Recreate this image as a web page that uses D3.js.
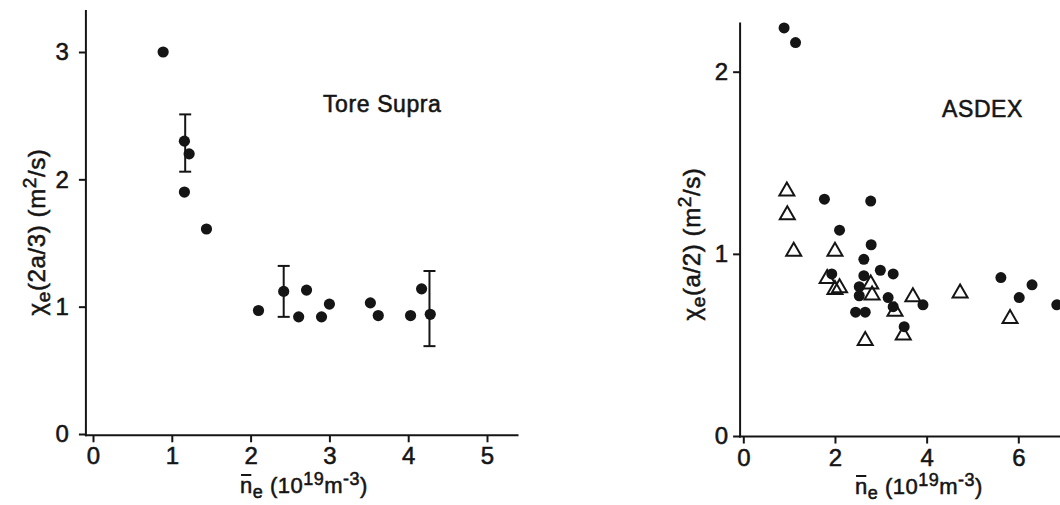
<!DOCTYPE html>
<html>
<head>
<meta charset="utf-8">
<script src="https://cdn.jsdelivr.net/npm/d3@7/dist/d3.min.js"></script>
<style>
  html, body { margin: 0; padding: 0; background: #ffffff; }
  svg { display: block; }
  text { font-family: 'Liberation Sans', Arial, Helvetica, sans-serif; fill: #151515;
         stroke: #151515; stroke-width: 0.55px; paint-order: stroke; }
</style>
</head>
<body>
<svg id="chart" width="1060" height="505"></svg>
<script>
// ---- Tore Supra: chi_e at r = 2a/3 versus line-averaged density ----
const tsDensity = [0.89, 1.16, 1.22, 1.16, 1.44, 2.10, 2.42, 2.61, 2.71, 2.90, 3.00, 3.52, 3.62, 4.03, 4.17, 4.28];
const tsChi     = [3.00, 2.30, 2.20, 1.90, 1.61, 0.97, 1.12, 0.92, 1.13, 0.92, 1.02, 1.03, 0.93, 0.93, 1.14, 0.94];
// error bars
const tsErrDensity = [1.17, 2.42, 4.27];
const tsErrLow     = [2.06, 0.92, 0.69];
const tsErrHigh    = [2.51, 1.32, 1.28];
const tsXTicks = [0, 1, 2, 3, 4, 5];
const tsYTicks = [0, 1, 2, 3];

// ---- ASDEX: chi_e at r = a/2 ----
const asDotDensity = [0.89, 1.14, 1.77, 2.78, 2.10, 2.79, 2.63, 1.93, 2.63, 2.99, 3.27, 2.53, 2.53, 3.16, 3.27, 3.92, 2.45, 2.66, 3.51, 5.62, 6.02, 6.30, 6.84];
const asDotChi     = [2.24, 2.16, 1.30, 1.29, 1.13, 1.05, 0.97, 0.89, 0.88, 0.91, 0.89, 0.82, 0.77, 0.76, 0.71, 0.72, 0.68, 0.68, 0.60, 0.87, 0.76, 0.83, 0.72];
const asTriDensity = [0.95, 0.96, 1.10, 2.00, 1.83, 2.00, 2.10, 2.78, 2.81, 3.70, 3.31, 4.73, 2.66, 3.49, 5.82];
const asTriChi     = [1.35, 1.22, 1.02, 1.02, 0.87, 0.81, 0.82, 0.84, 0.78, 0.77, 0.69, 0.79, 0.53, 0.56, 0.65];
const asXTicks = [0, 2, 4, 6];
const asYTicks = [0, 1, 2];

const svg = d3.select('#chart');
const INK = '#151515';

// scales
const xL = d3.scaleLinear().domain([0, 5]).range([93, 487]);
const yL = d3.scaleLinear().domain([0, 3]).range([434, 52]);
const xR = d3.scaleLinear().domain([0, 6]).range([743.3, 1018.3]);
const yR = d3.scaleLinear().domain([0, 2]).range([436, 71.7]);

function drawAxes(g, x, y, xTicks, yTicks, ext, yPad) {
  // axis lines
  g.append('line')
    .attr('x1', x(ext.x0)).attr('x2', x(ext.x0))
    .attr('y1', y(ext.yTop)).attr('y2', y(ext.y0) + 1)
    .attr('stroke', INK).attr('stroke-width', 2);
  g.append('line')
    .attr('x1', x(ext.x0) - 1).attr('x2', x(ext.xEnd))
    .attr('y1', y(ext.y0)).attr('y2', y(ext.y0))
    .attr('stroke', INK).attr('stroke-width', 2);

  const ax = g.append('g')
    .attr('transform', `translate(${x(ext.x0)},0)`)
    .call(d3.axisLeft(y).tickValues(yTicks).tickSize(7).tickPadding(yPad).tickFormat(d3.format('d')));
  const bx = g.append('g')
    .attr('transform', `translate(0,${y(ext.y0)})`)
    .call(d3.axisBottom(x).tickValues(xTicks).tickSize(7).tickPadding(5).tickFormat(d3.format('d')));
  [ax, bx].forEach(a => {
    a.select('.domain').remove();
    a.selectAll('.tick line').attr('stroke', INK).attr('stroke-width', 2);
    a.selectAll('.tick text')
      .attr('fill', INK)
      .style('font-size', '24px')
      .style('font-family', "'Liberation Sans', Arial, Helvetica, sans-serif");
  });
}

function xLabel(g, cx, baseline) {
  const t = g.append('text')
    .attr('x', cx).attr('y', baseline)
    .attr('text-anchor', 'middle')
    .style('font-size', '22px')
    .style('letter-spacing', '0.5px');
  t.append('tspan').text('n');
  t.append('tspan').attr('dy', 5).style('font-size', '18px').text('e');
  t.append('tspan').attr('dy', -5).text('\u00a0(10');
  t.append('tspan').attr('dy', -8).style('font-size', '18px').text('19');
  t.append('tspan').attr('dy', 8).text('m');
  t.append('tspan').attr('dy', -8).style('font-size', '18px').text('-3');
  t.append('tspan').attr('dy', 8).text(')');
  // bar over the n
  const e = t.node().getExtentOfChar(0);
  g.append('line')
    .attr('x1', e.x + 1).attr('x2', e.x + e.width - 1.5)
    .attr('y1', baseline - 18).attr('y2', baseline - 18)
    .attr('stroke', INK).attr('stroke-width', 2);
}

function yLabel(g, cx, cy, inner) {
  const t = g.append('text')
    .attr('transform', `translate(${cx},${cy}) rotate(-90)`)
    .attr('text-anchor', 'middle')
    .style('font-size', '24px')
    .style('letter-spacing', '0.6px');
  t.append('tspan').text('\u03c7');
  t.append('tspan').attr('dy', 5).style('font-size', '19px').text('e');
  t.append('tspan').attr('dy', -5).text(`(${inner})\u00a0(m`);
  t.append('tspan').attr('dy', -9).style('font-size', '19px').text('2');
  t.append('tspan').attr('dy', 9).text('/s)');
}

// ---------------- left panel ----------------
const gL = svg.append('g');
drawAxes(gL, xL, yL, tsXTicks, tsYTicks, { x0: -0.09, xEnd: 5.4, y0: -0.01, yTop: 3.33 }, 10);

// error bars
const errL = d3.range(tsErrDensity.length);
gL.selectAll('line.err').data(errL).join('line').attr('class', 'err')
  .attr('x1', i => xL(tsErrDensity[i])).attr('x2', i => xL(tsErrDensity[i]))
  .attr('y1', i => yL(tsErrHigh[i])).attr('y2', i => yL(tsErrLow[i]))
  .attr('stroke', INK).attr('stroke-width', 2);
['hi', 'lo'].forEach(k => {
  gL.selectAll('line.cap-' + k).data(errL).join('line').attr('class', 'cap-' + k)
    .attr('x1', i => xL(tsErrDensity[i]) - 6).attr('x2', i => xL(tsErrDensity[i]) + 6)
    .attr('y1', i => yL(k === 'hi' ? tsErrHigh[i] : tsErrLow[i]))
    .attr('y2', i => yL(k === 'hi' ? tsErrHigh[i] : tsErrLow[i]))
    .attr('stroke', INK).attr('stroke-width', 2);
});

gL.selectAll('circle.ts').data(d3.range(tsDensity.length)).join('circle').attr('class', 'ts')
  .attr('cx', i => xL(tsDensity[i])).attr('cy', i => yL(tsChi[i]))
  .attr('r', 5.6).attr('fill', INK);

gL.append('text').attr('x', 323).attr('y', 112)
  .style('font-size', '23px').style('letter-spacing', '0.6px').text('Tore Supra');
xLabel(gL, 304, 493);
yLabel(gL, 45, 232, '2a/3');

// ---------------- right panel ----------------
const gR = svg.append('g');
drawAxes(gR, xR, yR, asXTicks, asYTicks, { x0: -0.07, xEnd: 7.2, y0: -0.003, yTop: 2.27 }, 5);

const tri = 'M0,-7.5L7.5,5.5L-7.5,5.5Z';
gR.selectAll('path.tri').data(d3.range(asTriDensity.length)).join('path').attr('class', 'tri')
  .attr('d', tri)
  .attr('transform', i => `translate(${xR(asTriDensity[i])},${yR(asTriChi[i])})`)
  .attr('fill', 'none').attr('stroke', INK).attr('stroke-width', 2).attr('stroke-linejoin', 'miter');

gR.selectAll('circle.as').data(d3.range(asDotDensity.length)).join('circle').attr('class', 'as')
  .attr('cx', i => xR(asDotDensity[i])).attr('cy', i => yR(asDotChi[i]))
  .attr('r', 5.5).attr('fill', INK);

gR.append('text').attr('x', 942).attr('y', 117)
  .style('font-size', '23px').style('letter-spacing', '0.6px').text('ASDEX');
xLabel(gR, 919, 494);
yLabel(gR, 700, 244, 'a/2');
</script>
</body>
</html>
